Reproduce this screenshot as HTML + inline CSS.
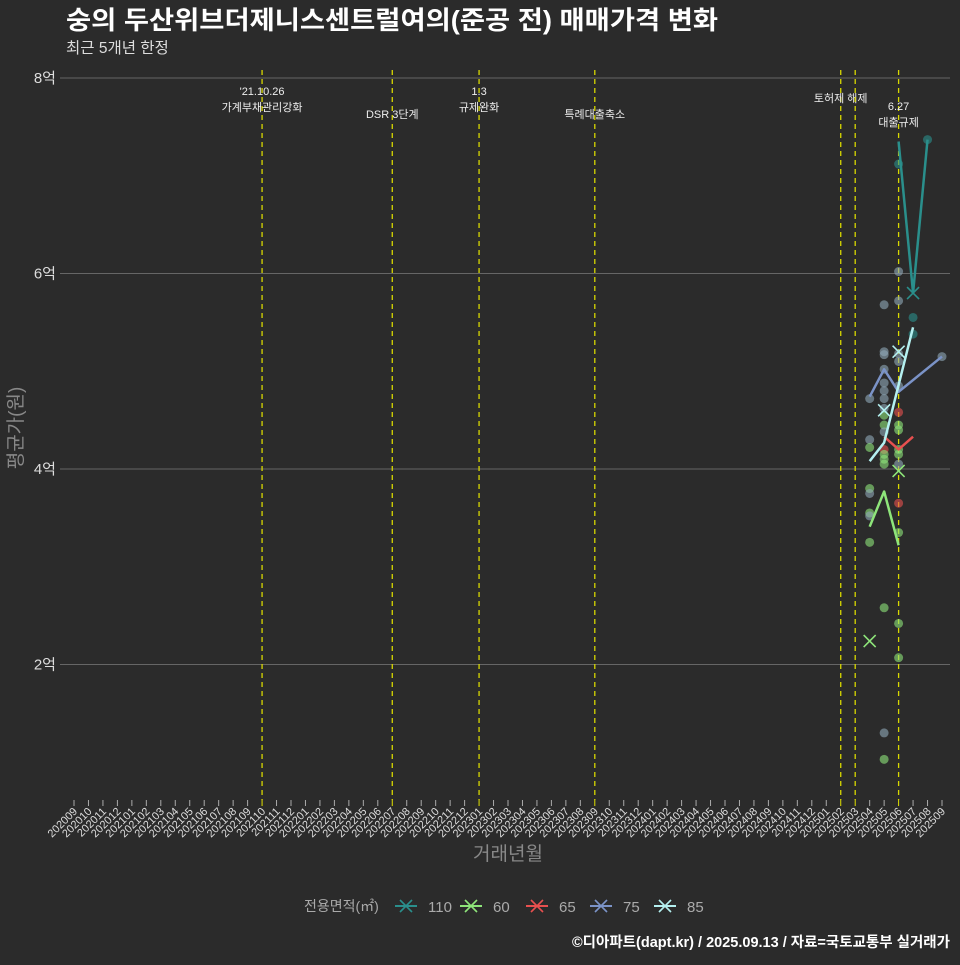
<!DOCTYPE html>
<html><head><meta charset="utf-8"><style>
body{margin:0;background:#2b2b2b;}
svg text{font-family:"Liberation Sans","Noto Sans CJK KR",sans-serif;}
</style></head><body>
<svg width="960" height="960" viewBox="0 0 960 960" xmlns="http://www.w3.org/2000/svg">
<rect width="960" height="960" fill="#2b2b2b"/>
<text x="66" y="29" fill="#fff" font-size="25.5" font-weight="bold" textLength="652" lengthAdjust="spacingAndGlyphs">숭의 두산위브더제니스센트럴여의(준공 전) 매매가격 변화</text>
<text x="66" y="53" fill="#ddd" font-size="15.5">최근 5개년 한정</text>
<g id="grid"></g>
<g id="events"></g>
<g id="xaxis"></g>
<g id="yaxis"></g>
<g id="pts"></g>
<g id="lines"></g>
<text x="508" y="860" fill="#888" font-size="19" text-anchor="middle">거래년월</text>
<text transform="translate(22,428) rotate(-90)" fill="#888" font-size="19" text-anchor="middle">평균가(원)</text>
<g id="legend"></g>
<text x="950" y="947" fill="#fff" font-size="14.5" font-weight="bold" text-anchor="end">©디아파트(dapt.kr) / 2025.09.13 / 자료=국토교통부 실거래가</text>
</svg>
<script>
const yTicks=[2,4,6,8];
const events=[{m:'202110',l:["'21.10.26","가계부채관리강화"],y:95},{m:'202207',l:["DSR 3단계"],y:118},{m:'202301',l:["1.3","규제완화"],y:95},{m:'202309',l:["특례대출축소"],y:118},{m:'202502',l:["토허제 해제"],y:102},{m:'202503',l:[],y:0},{m:'202506',l:["6.27","대출규제"],y:110}];
const seriesNames=['110','60','65','75','85'];
const seriesColors=['#2a8f8c','#8ee57a','#e8504f','#7b93c7','#b4f0f0'];
const s110m=['202506','202507','202508'], s110v=[7.35,5.8,7.37];
const s60m=['202504','202505','202506'], s60v=[3.41,3.77,3.22];
const s65m=['202505','202506','202507'], s65v=[4.33,4.2,4.33];
const s75m=['202504','202505','202506','202509'], s75v=[4.74,5.02,4.79,5.15];
const s85m=['202504','202505','202506','202507'], s85v=[4.08,4.27,4.86,5.45];
const xMarks=[['202507',5.8,0],['202504',2.24,1],['202506',3.98,1],['202505',4.6,4],['202506',5.2,4]];
const ptM=['202504','202504','202504','202504','202504','202504','202504','202504',
'202505','202505','202505','202505','202505','202505','202505','202505','202505','202505','202505','202505','202505','202505','202505','202505','202505','202505',
'202506','202506','202506','202506','202506','202506','202506','202506','202506','202506','202506','202506','202506','202506','202506','202506',
'202507','202507','202508','202509'];
const ptV=[4.72,4.3,4.22,3.8,3.75,3.55,3.52,3.25,
5.68,5.2,5.17,5.02,4.88,4.8,4.72,4.62,4.55,4.45,4.38,4.2,4.15,4.1,4.05,2.58,1.3,1.03,
7.12,6.02,5.72,5.18,5.1,4.85,4.58,4.45,4.4,4.2,4.15,4.05,3.65,3.35,2.42,2.07,
5.55,5.38,7.37,5.15];
const ptS=[3,3,1,1,3,1,3,1, 3,3,3,3,3,3,3,3,1,1,3,2,1,1,1,1,3,1, 0,3,3,3,3,3,2,1,1,1,1,3,2,1,1,1, 0,0,0,3];

const NS='http://www.w3.org/2000/svg';
const months=[];for(let y=2020,m=9;!(y===2025&&m>9);){months.push(''+y+(m<10?'0':'')+m);m++;if(m>12){m=1;y++;}}
const X=m=>74+months.indexOf(m)*(868/60);
const Y=v=>78+(8-v)*97.75;
function el(t,a,p){const e=document.createElementNS(NS,t);for(const k in a)e.setAttribute(k,a[k]);document.getElementById(p).appendChild(e);return e;}
yTicks.forEach(v=>{
 const l=el('line',{x1:60,x2:950,y1:Y(v),y2:Y(v),stroke:'#666','stroke-width':1},'grid');
 
 
 const t=el('text',{x:56,y:Y(v)+5,fill:'#ddd','font-size':15,'text-anchor':'end'},'yaxis');t.textContent=v+'억';
 
 
});
const evM=events.map(e=>e.m);
months.forEach(m=>{
 const x=X(m);
 const tk=el('line',{x1:x,x2:x,y1:800,y2:806,stroke:evM.includes(m)?'#e0e000':'#aaa','stroke-width':1},'xaxis');
 
 
 const t=el('text',{transform:`translate(${x+4},${812}) rotate(-45)`,fill:'#ddd','font-size':11,'text-anchor':'end'},'xaxis');t.textContent=m;
 
 
});
events.forEach(e=>{
 const x=X(e.m);
 const l=el('line',{x1:x,x2:x,y1:70,y2:800,stroke:'#d8d800','stroke-width':1.3,'stroke-dasharray':'5,4'},'events');
 
 
 e.l.forEach((s,i)=>{const t=el('text',{x:x,y:e.y+i*16,fill:'#eee','font-size':11,'text-anchor':'middle'},'events');t.textContent=s;
 
 });
});
ptM.forEach((m,i)=>{
 const c=el('circle',{cx:X(m),cy:Y(ptV[i]),r:4.5,fill:ptS[i]===3?'#8fa8b8':seriesColors[ptS[i]],'fill-opacity':0.6},'pts');
 
 
});
[[s110m,s110v],[s60m,s60v],[s65m,s65v],[s75m,s75v],[s85m,s85v]].forEach((s,i)=>{
 const p=el('polyline',{points:s[0].map((m,j)=>X(m)+','+Y(s[1][j])).join(' '),fill:'none',stroke:seriesColors[i],'stroke-width':2.5,'stroke-linejoin':'round'},'lines');
 
 
});
function cross(x,y,c,g,s){const d=`M${x-s},${y-s}L${x+s},${y+s}M${x-s},${y+s}L${x+s},${y-s}`;return el('path',{d:d,stroke:c,'stroke-width':1.6,fill:'none'},g);}
xMarks.forEach(k=>{const p=cross(X(k[0]),Y(k[1]),seriesColors[k[2]],'lines',6);
 
 });
const lt=el('text',{x:304,y:911,fill:'#aaa','font-size':14},'legend');lt.textContent='전용면적(㎡)';


const lx=[395,460,526,590,654];
seriesNames.forEach((n,i)=>{
 const l=el('line',{x1:lx[i],x2:lx[i]+22,y1:906,y2:906,stroke:seriesColors[i],'stroke-width':2},'legend');
 
 
 cross(lx[i]+11,906,seriesColors[i],'legend',6);
 const t=el('text',{x:lx[i]+33,y:912,fill:'#aaa','font-size':15},'legend');t.textContent=n;
 
 
});
</script>
</body></html>
